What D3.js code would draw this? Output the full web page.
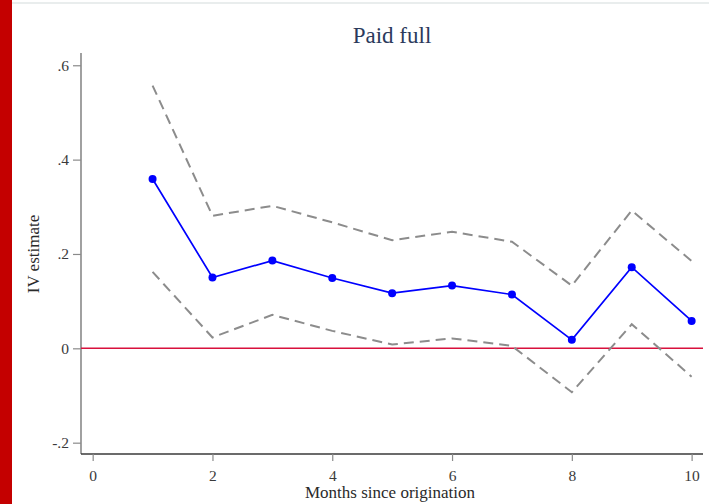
<!DOCTYPE html>
<html>
<head>
<meta charset="utf-8">
<script src="https://cdn.jsdelivr.net/npm/d3@7"></script>
<style>
  html, body { margin: 0; padding: 0; background: #fff; }
  svg { display: block; }
</style>
</head>
<body>
<svg id="chart" width="709" height="504"></svg>
<script>
// IV estimates by months since origination, with confidence bounds
const months = [1, 2, 3, 4, 5, 6, 7, 8, 9, 10];
const estimate = [0.359, 0.150, 0.186, 0.149, 0.117, 0.133, 0.114, 0.018, 0.172, 0.058];
const upper = [0.557, 0.281, 0.302, 0.267, 0.229, 0.247, 0.226, 0.133, 0.292, 0.185];
const lower = [0.162, 0.023, 0.071, 0.037, 0.008, 0.021, 0.005, -0.093, 0.051, -0.060];
const xTicks = [0, 2, 4, 6, 8, 10];
const yTicks = [-0.2, 0, 0.2, 0.4, 0.6];

const svg = d3.select("#chart");
const W = 709, H = 504;
const serif = "'Liberation Serif', 'DejaVu Serif', serif";

// page frame: red strip on the left, faint rule across the top
svg.append("rect").attr("x", 0).attr("y", 0).attr("width", 12).attr("height", H).attr("fill", "#c40000");
svg.append("rect").attr("x", 12).attr("y", 2).attr("width", W - 12).attr("height", 2).attr("fill", "#e9eded");

const plot = { left: 81, right: 703, top: 53, bottom: 454 };

const x = d3.scaleLinear().domain([-0.195, 10.19]).range([plot.left, plot.right]);
const y = d3.scaleLinear().domain([-0.224, 0.626]).range([plot.bottom, plot.top]);

// ".6", "-.2", "0" style labels with a plain hyphen for negatives
const fmt = v => {
  if (Math.abs(v) < 1e-9) return "0";
  return v.toFixed(1).replace(/^(-?)0\./, "$1.");
};

// y axis
const yAxis = svg.append("g")
  .attr("transform", `translate(${plot.left},0)`)
  .call(d3.axisLeft(y).tickValues(yTicks).tickFormat(fmt).tickSize(8).tickPadding(4));
yAxis.select(".domain").attr("stroke", "#6e6e6e").attr("stroke-width", 1.3)
  .attr("d", `M0,${plot.top}V${plot.bottom}`);
yAxis.selectAll(".tick line").attr("stroke", "#8a8a8a").attr("stroke-width", 1.2);
yAxis.selectAll(".tick text")
  .attr("font-family", serif).attr("font-size", 15.5).attr("fill", "#3a3a3a");

// x axis
const xAxis = svg.append("g")
  .attr("transform", `translate(0,${plot.bottom})`)
  .call(d3.axisBottom(x).tickValues(xTicks).tickFormat(d3.format("d")).tickSize(7).tickPadding(9));
xAxis.select(".domain").attr("stroke", "#3a3a3a").attr("stroke-width", 1.3)
  .attr("d", `M${plot.left},0H${plot.right}`);
xAxis.selectAll(".tick line").attr("stroke", "#8a8a8a").attr("stroke-width", 1.2);
xAxis.selectAll(".tick text")
  .attr("font-family", serif).attr("font-size", 15.5).attr("fill", "#3a3a3a");

// zero reference line
svg.append("line")
  .attr("x1", plot.left).attr("x2", plot.right)
  .attr("y1", y(0)).attr("y2", y(0))
  .attr("stroke", "#d8103c").attr("stroke-width", 1.6);

const line = d3.line().x(d => x(d[0])).y(d => y(d[1]));

// confidence bounds
[upper, lower].forEach(arr => {
  svg.append("path")
    .datum(months.map((m, i) => [m, arr[i]]))
    .attr("d", line)
    .attr("fill", "none")
    .attr("stroke", "#8c8c8c")
    .attr("stroke-width", 2)
    .attr("stroke-dasharray", "10,6");
});

// point estimates
const pts = months.map((m, i) => [m, estimate[i]]);
svg.append("path")
  .datum(pts)
  .attr("d", line)
  .attr("fill", "none")
  .attr("stroke", "#0000ff")
  .attr("stroke-width", 1.7);
svg.selectAll("circle.est")
  .data(pts)
  .join("circle")
  .attr("class", "est")
  .attr("cx", d => x(d[0]))
  .attr("cy", d => y(d[1]))
  .attr("r", 4)
  .attr("fill", "#0000ff");

// titles
svg.append("text")
  .attr("x", 392).attr("y", 43)
  .attr("text-anchor", "middle")
  .attr("font-family", serif).attr("font-size", 23)
  .attr("fill", "#2b3a5c")
  .text("Paid full");

svg.append("text")
  .attr("x", 390).attr("y", 498)
  .attr("text-anchor", "middle")
  .attr("font-family", serif).attr("font-size", 17)
  .attr("fill", "#2a2a2a")
  .text("Months since origination");

svg.append("text")
  .attr("transform", "translate(39,254) rotate(-90)")
  .attr("text-anchor", "middle")
  .attr("font-family", serif).attr("font-size", 17)
  .attr("fill", "#2a2a2a")
  .text("IV estimate");
</script>
</body>
</html>
